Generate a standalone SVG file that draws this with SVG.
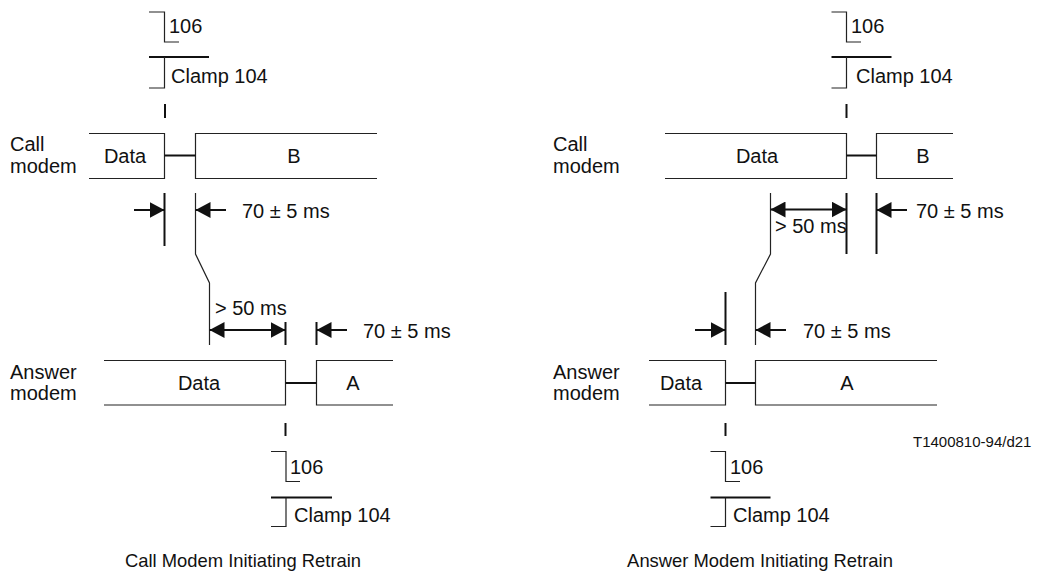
<svg xmlns="http://www.w3.org/2000/svg" width="1046" height="583" viewBox="0 0 1046 583">
<style>
text{font-family:"Liberation Sans",Arial,sans-serif;font-size:20px;fill:#111}
.c{text-anchor:middle}
.title{font-size:18.4px;text-anchor:middle}
.small{font-size:15px}
.thin{fill:none;stroke:#222;stroke-width:1.2}
.thick{fill:none;stroke:#111;stroke-width:2}
.arr{fill:none;stroke:#111;stroke-width:2;marker-end:url(#ah)}
.darr{fill:none;stroke:#111;stroke-width:2;marker-start:url(#ahs);marker-end:url(#ah)}
</style>
<defs>
<marker id="ah" viewBox="0 0 15 16" refX="15" refY="8" markerWidth="15" markerHeight="16" orient="auto" markerUnits="userSpaceOnUse"><path d="M0,0 L15,8 L0,16 z" fill="#111"/></marker>
<marker id="ahs" viewBox="0 0 15 16" refX="0" refY="8" markerWidth="15" markerHeight="16" orient="auto" markerUnits="userSpaceOnUse"><path d="M15,0 L0,8 L15,16 z" fill="#111"/></marker>
</defs>

<!-- LEFT PANEL -->
<g id="left-labels">
<text x="10" y="151">Call</text><text x="10" y="173">modem</text>
<text x="10" y="379">Answer</text><text x="10" y="400">modem</text>
</g>
<g id="left-106-top"><path class="thin" d="M149,12 H164.5 V42 H179"/><text x="169" y="33">106</text></g>
<g id="left-clamp-top"><path class="thick" d="M149,57 H209"/><path class="thin" d="M164.5,57 V88 H149"/><text x="171" y="83">Clamp 104</text></g>
<g id="left-call-data"><path class="thin" d="M89,133.5 H164.5 V178.5 H89"/><text class="c" x="125" y="163">Data</text></g>
<g id="left-call-b"><path class="thin" d="M377,133.5 H195.5 V178.5 H377"/><text class="c" x="294" y="163">B</text></g>
<g id="left-ans-data"><path class="thin" d="M104,360.5 H285.5 V405 H104"/><text class="c" x="199" y="390">Data</text></g>
<g id="left-ans-a"><path class="thin" d="M393,360.5 H316.5 V405 H393"/><text class="c" x="353" y="390">A</text></g>
<g id="left-106-bot"><path class="thin" d="M271,451.5 H286 V481.5 H300"/><text x="290" y="474">106</text></g>
<g id="left-clamp-bot"><path class="thick" d="M271,497.5 H332"/><path class="thin" d="M286,497.5 V526.5 H271"/><text x="294" y="522">Clamp 104</text></g>
<g id="left-texts">
<text x="242" y="218">70 ± 5 ms</text>
<text x="215" y="315">&gt; 50 ms</text>
<text x="363" y="338">70 ± 5 ms</text>
<text class="title" x="243" y="567">Call Modem Initiating Retrain</text>
</g>

<!-- RIGHT PANEL -->
<g id="right-labels">
<text x="553" y="151">Call</text><text x="553" y="173">modem</text>
<text x="553" y="379">Answer</text><text x="553" y="400">modem</text>
</g>
<g id="right-106-top"><path class="thin" d="M831.5,12 H846.5 V42 H861"/><text x="851" y="33">106</text></g>
<g id="right-clamp-top"><path class="thick" d="M831.5,57 H891.5"/><path class="thin" d="M846.5,57 V88 H831.5"/><text x="856" y="83">Clamp 104</text></g>
<g id="right-call-data"><path class="thin" d="M665,133.5 H846.5 V178.5 H665"/><text class="c" x="757" y="163">Data</text></g>
<g id="right-call-b"><path class="thin" d="M953,133.5 H876.5 V178.5 H953"/><text class="c" x="923" y="163">B</text></g>
<g id="right-ans-data"><path class="thin" d="M649,360.5 H725.5 V405 H649"/><text class="c" x="681" y="390">Data</text></g>
<g id="right-ans-a"><path class="thin" d="M937,360.5 H755.5 V405 H937"/><text class="c" x="847" y="390">A</text></g>
<g id="right-106-bot"><path class="thin" d="M710.5,451.5 H725.5 V481.5 H740"/><text x="730" y="474">106</text></g>
<g id="right-clamp-bot"><path class="thick" d="M710.5,497.5 H770.5"/><path class="thin" d="M725.5,497.5 V526.5 H710.5"/><text x="733" y="522">Clamp 104</text></g>
<g id="right-texts">
<text x="775" y="233">&gt; 50 ms</text>
<text x="916" y="218">70 ± 5 ms</text>
<text x="803" y="338">70 ± 5 ms</text>
<text class="title" x="760" y="567">Answer Modem Initiating Retrain</text>
<text class="small" x="913" y="447">T1400810-94/d21</text>
</g>

<g id="connectors">
<!-- left -->
<path class="thick" d="M165,104 V118"/>
<path class="thick" d="M164.5,155.5 H195.5"/>
<path class="thick" d="M164.5,193 V246"/>
<path class="thin" d="M195.5,193 V254 L209.5,283 V345"/>
<path class="arr" d="M134,210 H164.5"/>
<path class="arr" d="M226,210 H195.5"/>
<path class="darr" d="M209.5,330 H285.5"/>
<path class="thick" d="M285.5,322 V345"/>
<path class="thick" d="M316.5,322 V345"/>
<path class="arr" d="M347,330 H316.5"/>
<path class="thick" d="M285.5,383 H316.5"/>
<path class="thick" d="M285.5,423 V436"/>
<!-- right -->
<path class="thick" d="M846.5,104 V118"/>
<path class="thick" d="M846.5,155.5 H876.5"/>
<path class="thick" d="M846.5,193 V254"/>
<path class="thick" d="M876.5,193 V254"/>
<path class="thin" d="M770.5,193 V254 L755.5,283 V345"/>
<path class="darr" d="M770.5,209.5 H846.5"/>
<path class="arr" d="M907,210 H876.5"/>
<path class="thick" d="M725.5,292 V345"/>
<path class="arr" d="M695,330 H725.5"/>
<path class="arr" d="M786,330 H755.5"/>
<path class="thick" d="M725.5,383 H755.5"/>
<path class="thick" d="M725.5,423 V436"/>
</g>
</svg>
